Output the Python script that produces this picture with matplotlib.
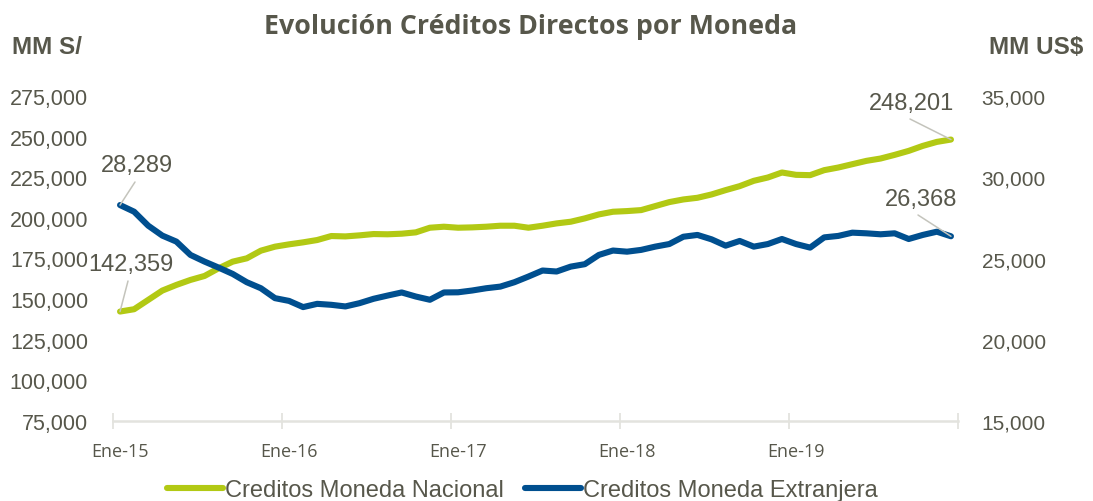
import matplotlib
matplotlib.use("Agg")
import matplotlib.pyplot as plt
import numpy as np

# ---------------- data ----------------
years = ["Ene-15", "Ene-16", "Ene-17", "Ene-18", "Ene-19"]
nacional = [142359, 143790, 149520, 155250, 158740, 161810, 164260, 168970, 173060, 175110,
            179820, 182280, 183710, 184940, 186370, 188830, 188600, 189240, 190050, 189900,
            190260, 191080, 193940, 194560, 193940, 194150, 194560, 195170, 195170, 193940,
            195170, 196600, 197630, 199680, 202130, 203770, 204180, 204790, 207250, 209710,
            211340, 212370, 214410, 217080, 219530, 222810, 224850, 227920, 226490, 226290,
            229360, 230990, 233040, 235090, 236520, 238770, 241230, 244300, 246760, 248201]
extranjera = [28289, 27880, 27020, 26410, 26040, 25220, 24810, 24440, 24050, 23540,
              23170, 22560, 22390, 22010, 22210, 22150, 22050, 22250, 22520, 22720,
              22910, 22660, 22460, 22910, 22920, 23030, 23170, 23270, 23540, 23890,
              24260, 24200, 24500, 24650, 25220, 25490, 25420, 25530, 25730, 25890,
              26340, 26450, 26180, 25790, 26080, 25730, 25890, 26200, 25890, 25670,
              26300, 26390, 26590, 26550, 26490, 26550, 26200, 26450, 26650, 26368]
left_ticks = [75000, 100000, 125000, 150000, 175000, 200000, 225000, 250000, 275000]
right_ticks = [15000, 20000, 25000, 30000, 35000]
series_names = ["Creditos Moneda Nacional", "Creditos Moneda Extranjera"]
title = "Evolución Créditos Directos por Moneda"

# ---------------- style ----------------
GREEN = "#b2c914"
BLUE = "#004f8f"
TXT = "#57574b"
AXC = "#e3e3de"
LEAD = "#c4c4bc"

fig = plt.figure(figsize=(10.93, 5.02), dpi=100)
ax1 = fig.add_axes([113/1093, 1-422/502, (958-113)/1093, (422-97)/502])
ax2 = ax1.twinx()

x = np.arange(len(nacional))
l1, = ax1.plot(x, nacional, color=GREEN, lw=4.4, solid_capstyle="round", solid_joinstyle="round",
               label=series_names[0])
l2, = ax2.plot(x, extranjera, color=BLUE, lw=4.4, solid_capstyle="round", solid_joinstyle="round",
               label=series_names[1])

ax1.set_xlim(-0.5, len(x) - 0.5)
ax1.set_ylim(left_ticks[0], left_ticks[-1])
ax2.set_ylim(right_ticks[0], right_ticks[-1])

for ax in (ax1, ax2):
    for s in ("top", "left", "right"):
        ax.spines[s].set_visible(False)
    ax.spines["bottom"].set_color(AXC)
    ax.spines["bottom"].set_linewidth(1.8)
ax2.spines["bottom"].set_visible(False)

ax1.set_yticks(left_ticks)
ax1.set_yticklabels([f"{v:,}" for v in left_ticks])
ax2.set_yticks(right_ticks)
ax2.set_yticklabels([f"{v:,}" for v in right_ticks])
ax1.tick_params(axis="y", length=0, pad=18, labelsize=15.5, labelcolor=TXT)
ax2.tick_params(axis="y", length=0, pad=17, labelsize=15, labelcolor=TXT)
for lab in ax1.get_yticklabels() + ax2.get_yticklabels():
    lab.set_fontfamily(["Liberation Sans", "DejaVu Sans"])

# x axis: boundary tick marks (major), labels at first month of each year (minor)
ax1.set_xticks(np.arange(-0.5, len(x), 12))
ax1.set_xticklabels([])
ax1.set_xticks(np.arange(0, len(x), 12), minor=True)
ax1.set_xticklabels(years, minor=True)
ax1.tick_params(axis="x", which="major", direction="inout", length=12, width=1.3, color=AXC)
ax1.tick_params(axis="x", which="minor", length=0, pad=15, labelsize=13, labelcolor=TXT)
for lab in ax1.get_xticklabels(minor=True):
    lab.set_fontfamily(["Open Sans", "DejaVu Sans"])

# data labels with leader lines
def label(ax, xi, yi, text, tx, ty, ha, lx, ly):
    ax.annotate(text, xy=(xi, yi), xycoords="data", xytext=(tx, ty), textcoords="figure pixels",
                ha=ha, va="center", fontsize=17, color=TXT, family=["Liberation Sans", "DejaVu Sans"])
    ax.annotate("", xy=(xi, yi), xycoords="data", xytext=(lx, ly), textcoords="figure pixels",
                arrowprops=dict(arrowstyle="-", color=LEAD, lw=1.1, shrinkA=0, shrinkB=0))

H = 502
label(ax2, x[0], extranjera[0], f"{extranjera[0]:,}", 137, H-166, "center", 135, H-183)
label(ax1, x[0], nacional[0], f"{nacional[0]:,}", 131, H-265, "center", 128, H-282)
label(ax1, x[-1], nacional[-1], f"{nacional[-1]:,}", 911, H-104, "center", 910, H-120)
label(ax2, x[-1], extranjera[-1], f"{extranjera[-1]:,}", 921, H-200, "center", 918, H-216)

# titles
fig.text(531/1093, 1-27/502, title, ha="center", va="center", fontsize=19.3, fontweight="bold",
         color=TXT, family=["Open Sans", "DejaVu Sans"])
fig.text(12/1093, 1-48/502, "MM S/", ha="left", va="center", fontsize=17.5, fontweight="bold",
         color=TXT, family=["Liberation Sans", "DejaVu Sans"])
fig.text(1083/1093, 1-48/502, "MM US$", ha="right", va="center", fontsize=17.5, fontweight="bold",
         color=TXT, family=["Liberation Sans", "DejaVu Sans"])

leg = fig.legend(handles=[l1, l2], loc="center", bbox_to_anchor=(522/1093, 1-491/502), ncol=2,
                 frameon=False, fontsize=17, handlelength=2.4, handletextpad=0.05, columnspacing=0.9,
                 prop={"family": ["Liberation Sans", "DejaVu Sans"], "size": 17})
for t in leg.get_texts():
    t.set_color(TXT)
for h in leg.legend_handles:
    h.set_linewidth(4.4)

fig.savefig("out.png", dpi=100)
